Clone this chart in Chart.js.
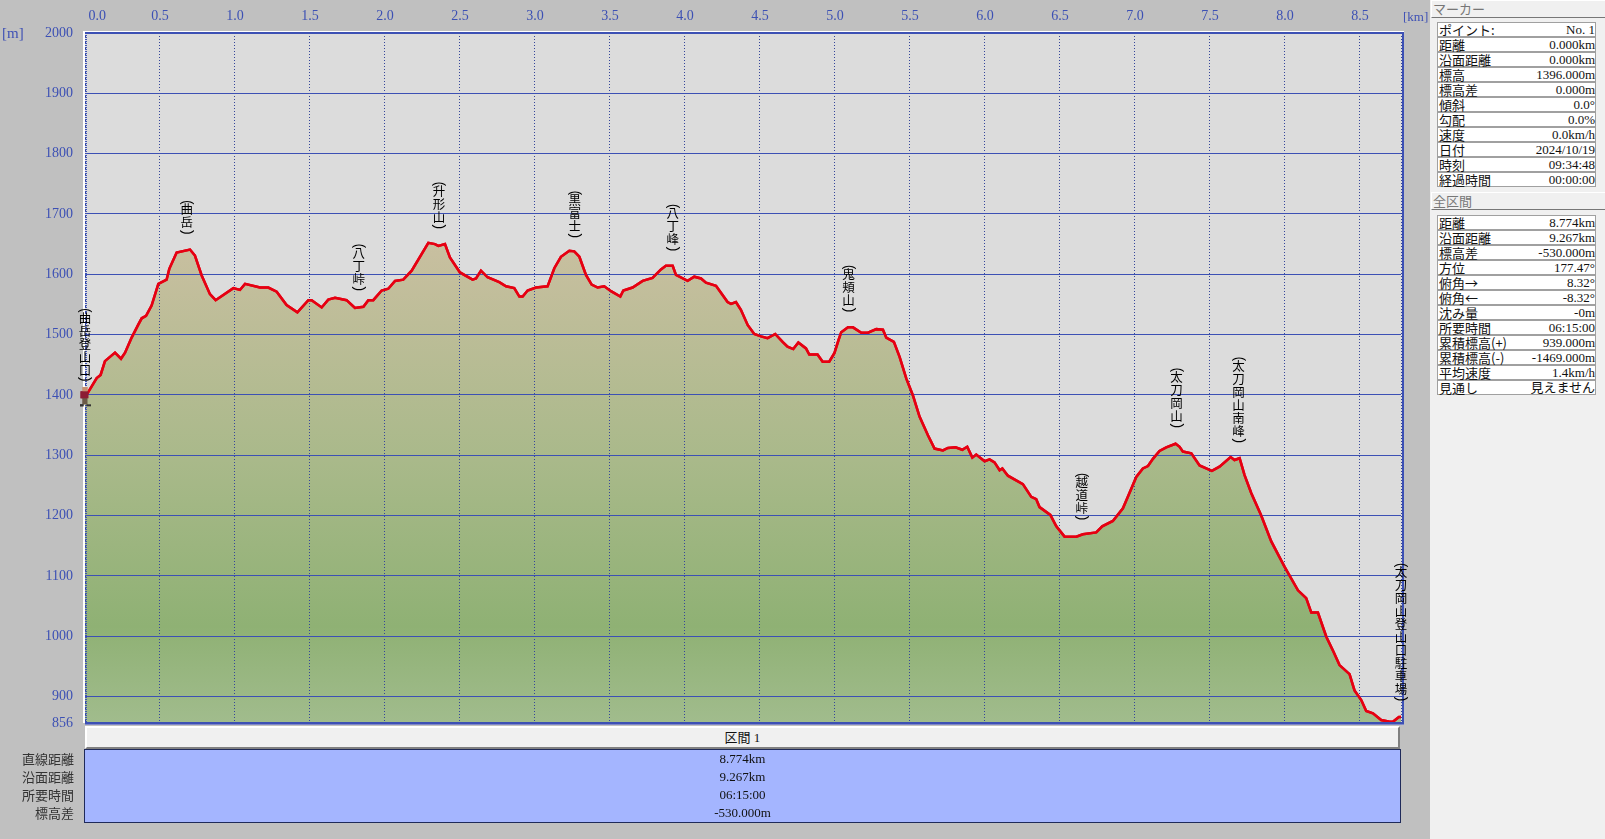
<!DOCTYPE html>
<html>
<head>
<meta charset="utf-8">
<style>
  html, body { margin: 0; padding: 0; background: #c0c0c0; overflow: hidden; }
  body { width: 1605px; height: 839px; position: relative; font-family: "Liberation Serif", "Noto Sans CJK JP", serif; font-size: 13px; color: #222; }
  canvas { position: absolute; left: 0; top: 0; }
  .abs { position: absolute; white-space: nowrap; line-height: 15px; color: #3f51b5; }
  #panel { position: absolute; left: 1430px; top: 0; width: 175px; height: 839px; background: #f0f0f0; }
  .head { position: absolute; left: 1px; width: 172px; height: 16px; line-height: 16px; color: #777; font-size: 13px; font-family: "Noto Sans CJK JP"; background: #f0f0f0; border-top: 1px solid #fff; border-left: 1px solid #fff; border-right: 1px solid #777; border-bottom: 1px solid #777; padding-left: 1px; box-sizing: content-box; }
  .row { position: absolute; left: 7px; width: 159px; height: 15px; line-height: 14px; background: #fff; border: 1px solid #a0a0a0; box-sizing: border-box; padding: 0 0 0 1px; display: flex; justify-content: space-between; color: #111; }
  .row span:first-child { font-family: "Noto Sans CJK JP"; }
  #section { position: absolute; left: 85px; top: 726px; width: 1315px; height: 23px; line-height: 20px; background: #f0f0f0; text-align: center; box-sizing: border-box; border-top: 2px solid #fff; border-left: 2px solid #fff; border-bottom: 2px solid #808080; border-right: 2px solid #808080; color: #111; }
  #blue { position: absolute; left: 84px; top: 749px; width: 1317px; height: 74px; background: #a4b5ff; border: 1px solid #1f2a5a; box-sizing: border-box; }
  .val { position: absolute; left: 84px; width: 1317px; text-align: center; line-height: 18px; color: #111; }
  .lab { position: absolute; left: 0; width: 74px; text-align: right; line-height: 18px; color: #333; font-family: "Noto Sans CJK JP"; }
</style>
</head>
<body>
<canvas id="grafica" width="1605" height="839"></canvas>
<div class="abs" style="left:2px;top:26px;font-size:15px">[m]</div>
<div class="abs" style="left:1403px;top:9px;font-size:13px">[km]</div>
<div id="section">区間 1</div>
<div id="blue"></div>
<div id="panel"></div>

<script src="https://cdn.jsdelivr.net/npm/chart.js@4"></script>
<script>
// 距離 [km]
const distKm = [
  0, 0.078, 0.104, 0.133, 0.2, 0.24, 0.267, 0.311, 0.356, 0.378, 0.407, 0.444, 0.489, 0.544, 0.562, 0.611, 0.7, 0.733, 0.778, 0.833, 0.871, 0.989,
  1.033, 1.067, 1.167, 1.222, 1.278, 1.344, 1.416, 1.489, 1.511, 1.578, 1.622, 1.667, 1.744, 1.8, 1.856, 1.889, 1.922, 1.978,
  2.022, 2.067, 2.122, 2.178, 2.289, 2.333, 2.356, 2.4, 2.433, 2.5, 2.584, 2.607, 2.64, 2.684, 2.762, 2.807, 2.862, 2.896, 2.918, 2.951,
  3.007, 3.084, 3.129, 3.173, 3.229, 3.262, 3.296, 3.34, 3.378, 3.418, 3.462, 3.507, 3.569, 3.589, 3.651, 3.718, 3.784, 3.84, 3.873, 3.918, 3.94,
  4.018, 4.062, 4.107, 4.14, 4.207, 4.284, 4.307, 4.34, 4.373, 4.418, 4.462, 4.507, 4.551, 4.602, 4.651, 4.684, 4.722, 4.756, 4.807, 4.829, 4.884, 4.918, 4.962, 4.996,
  5.024, 5.042, 5.087, 5.12, 5.176, 5.22, 5.276, 5.32, 5.342, 5.393, 5.431, 5.476, 5.52, 5.564, 5.62, 5.664, 5.72, 5.753, 5.804, 5.849, 5.882, 5.916, 5.942, 5.998,
  6.031, 6.064, 6.098, 6.116, 6.153, 6.253, 6.309, 6.342, 6.364, 6.436, 6.476, 6.531, 6.609, 6.653, 6.742, 6.782, 6.853, 6.92, 6.953,
  7.009, 7.053, 7.087, 7.12, 7.164, 7.209, 7.271, 7.298, 7.32, 7.376, 7.431, 7.513, 7.564, 7.638, 7.664, 7.698, 7.731, 7.776, 7.842, 7.909, 7.998,
  8.087, 8.142, 8.176, 8.22, 8.276, 8.324, 8.364, 8.431, 8.464, 8.509, 8.542, 8.587, 8.642, 8.698, 8.72, 8.76, 8.774
];
// 標高 [m]
const elevM = [
  1396, 1428, 1433, 1456, 1470, 1460, 1470, 1495, 1517, 1527, 1531, 1548, 1584, 1591, 1609, 1636, 1641, 1631, 1598, 1567, 1557, 1577,
  1574, 1584, 1578, 1578, 1571, 1549, 1537, 1557, 1557, 1545, 1558, 1561, 1557, 1544, 1546, 1557, 1557, 1573,
  1576, 1589, 1591, 1606, 1652, 1650, 1647, 1650, 1628, 1603, 1591, 1593, 1606, 1595, 1587, 1580, 1577, 1563, 1563, 1573,
  1578, 1580, 1610, 1629, 1639, 1638, 1629, 1599, 1583, 1578, 1580, 1572, 1563, 1573, 1578, 1589, 1594, 1608, 1614, 1614, 1599,
  1589, 1596, 1593, 1586, 1581, 1554, 1551, 1554, 1541, 1516, 1501, 1497, 1494, 1501, 1488, 1480, 1476, 1487, 1477, 1467, 1467, 1455, 1455, 1469,
  1491, 1504, 1512, 1512, 1503, 1503, 1509, 1508, 1495, 1488, 1463, 1427, 1399, 1364, 1333, 1311, 1308, 1312, 1313, 1309, 1314, 1296, 1301, 1290,
  1293, 1288, 1275, 1278, 1266, 1252, 1231, 1227, 1214, 1201, 1182, 1165, 1165, 1169, 1172, 1182, 1191, 1212, 1231,
  1264, 1278, 1282, 1294, 1307, 1313, 1319, 1314, 1306, 1303, 1283, 1274, 1281, 1297, 1292, 1295, 1267, 1237, 1200, 1157, 1115,
  1076, 1063, 1039, 1039, 999, 974, 952, 937, 910, 894, 876, 872, 861, 858, 858, 866, 866
];

const xTickValues = [0, 0.5, 1, 1.5, 2, 2.5, 3, 3.5, 4, 4.5, 5, 5.5, 6, 6.5, 7, 7.5, 8, 8.5, 8.774];

// 地点名
const peakNames = ["曲岳登山口", "曲岳", "八丁峠", "升形山", "黒富士", "八丁峰", "鬼頬山", "越道峠", "太刀岡山", "太刀岡山南峰", "太刀岡山登山口駐車場"];
const peakKm = [0, 0.678, 1.825, 2.36, 3.265, 3.918, 5.091, 6.645, 7.278, 7.69, 8.774];
const peakBaseM = [1424, 1668, 1574, 1677, 1662, 1640, 1539, 1194, 1347, 1322, 894];

const markerKm = [0];
const markerM = [1396];

const markerLabels = ["ポイント:", "距離", "沿面距離", "標高", "標高差", "傾斜", "勾配", "速度", "日付", "時刻", "経過時間"];
const markerValues = ["No. 1", "0.000km", "0.000km", "1396.000m", "0.000m", "0.0°", "0.0%", "0.0km/h", "2024/10/19", "09:34:48", "00:00:00"];
const totalLabels = ["距離", "沿面距離", "標高差", "方位", "俯角→", "俯角←", "沈み量", "所要時間", "累積標高(+)", "累積標高(-)", "平均速度", "見通し"];
const totalValues = ["8.774km", "9.267km", "-530.000m", "177.47°", "8.32°", "-8.32°", "-0m", "06:15:00", "939.000m", "-1469.000m", "1.4km/h", "見えません"];
const tableLabels = ["直線距離", "沿面距離", "所要時間", "標高差"];
const tableValues = ["8.774km", "9.267km", "06:15:00", "-530.000m"];

const azul = "#3c50b4";
const fuenteNum = '"Liberation Serif", "Noto Sans CJK JP", serif';

// 右パネルと下の表
const panel = document.getElementById("panel");
function addHead(text, top) {
  const d = document.createElement("div");
  d.className = "head";
  d.style.top = top + "px";
  d.textContent = text;
  panel.appendChild(d);
}
function addRows(labels, values, top) {
  labels.forEach((l, i) => {
    const d = document.createElement("div");
    d.className = "row";
    d.style.top = (top + i * 15) + "px";
    d.innerHTML = "<span>" + l + "</span><span>" + values[i] + "</span>";
    panel.appendChild(d);
  });
}
addHead("マーカー", 0);
addRows(markerLabels, markerValues, 22);
addHead("全区間", 192);
addRows(totalLabels, totalValues, 215);

tableLabels.forEach((l, i) => {
  const top = 750 + i * 18;
  const a = document.createElement("div");
  a.className = "lab";
  a.style.top = top + "px";
  a.textContent = l;
  document.body.appendChild(a);
  const b = document.createElement("div");
  b.className = "val";
  b.style.top = top + "px";
  b.textContent = tableValues[i];
  document.body.appendChild(b);
});

// 現在地の人形
function makeHiker() {
  const c = document.createElement("canvas");
  c.width = 11;
  c.height = 20;
  const g = c.getContext("2d");
  g.fillStyle = "#c89070"; g.fillRect(3, 0, 5, 4);
  g.fillStyle = "#8c1c34"; g.fillRect(1, 4, 8, 7);
  g.fillStyle = "#6b5a48"; g.fillRect(3, 11, 3, 6); g.fillRect(6, 11, 2, 6);
  g.fillStyle = "#333"; g.fillRect(0, 17, 4, 2); g.fillRect(7, 17, 4, 2);
  return c;
}

// 背景、枠、線の描き直し、地点名
const decoraciones = {
  id: "decoraciones",
  beforeDraw(chart) {
    const { ctx, chartArea: a } = chart;
    ctx.save();
    ctx.fillStyle = "#dcdcdc";
    ctx.fillRect(a.left, a.top, a.right - a.left + 1, a.bottom - a.top);
    ctx.fillStyle = "#ffffff";
    ctx.fillRect(a.left - 2, a.top - 2, a.right - a.left + 5, 2);
    ctx.fillRect(a.left - 2, a.top - 2, 2, a.bottom - a.top + 2);
    ctx.restore();
  },
  afterDraw(chart) {
    const { ctx, chartArea: a, scales } = chart;
    ctx.save();
    // 赤線と人形はグリッドの上
    chart.getDatasetMeta(0).dataset.draw(ctx);
    ctx.fillStyle = azul;
    ctx.fillRect(a.left, a.top - 1, a.right - a.left + 3, 2);
    ctx.fillRect(a.left, a.bottom - 1, a.right - a.left + 3, 2);
    ctx.fillRect(a.right + 1, a.top, 2, a.bottom - a.top);
    ctx.fillStyle = "#8088c8";
    ctx.fillRect(a.left, a.bottom + 1, a.right - a.left + 3, 1);
    for (let y = a.top; y < a.bottom; y += 2) {
      ctx.fillStyle = azul;
      ctx.fillRect(a.left, y, 2, 1);
    }
    chart.getDatasetMeta(1).data[0].draw(ctx);

    ctx.fillStyle = "#000";
    ctx.textAlign = "center";
    ctx.textBaseline = "middle";
    peakNames.forEach((name, i) => {
      const x = scales.x.getPixelForValue(peakKm[i]);
      let y = scales.y.getPixelForValue(peakBaseM[i]);
      const drawParen = (ch, py) => {
        ctx.save();
        ctx.translate(x, py);
        ctx.rotate(Math.PI / 2);
        ctx.font = "14px 'Liberation Sans'";
        ctx.fillText(ch, 0, 0);
        ctx.restore();
      };
      const chars = Array.from(name);
      drawParen(")", y - 1);
      y -= 4;
      ctx.font = "12.5px 'Noto Sans CJK JP'";
      for (let j = chars.length - 1; j >= 0; j--) {
        ctx.fillText(chars[j], x, y - 6.5);
        y -= 13;
      }
      drawParen("(", y - 1);
    });
    ctx.restore();
  }
};

new Chart(document.getElementById("grafica"), {
  type: "line",
  data: {
    datasets: [
      {
        data: distKm.map((k, i) => ({ x: k, y: elevM[i] })),
        borderColor: "#e60012",
        borderWidth: 2.5,
        pointRadius: 0,
        tension: 0,
        fill: "start",
        backgroundColor(context) {
          const a = context.chart.chartArea;
          if (!a) return "#a0b080";
          const g = context.chart.ctx.createLinearGradient(0, a.top, 0, a.bottom);
          g.addColorStop(0, "#d6c8ac");
          g.addColorStop(0.32, "#c7bf9f");
          g.addColorStop(0.62, "#a9b98a");
          g.addColorStop(0.86, "#8fb174");
          g.addColorStop(1, "#a1bc8d");
          return g;
        }
      },
      {
        data: markerKm.map((k, i) => ({ x: k, y: markerM[i] })),
        showLine: false,
        pointStyle: makeHiker(),
        pointRadius: 6,
        clip: false
      }
    ]
  },
  options: {
    responsive: false,
    animation: false,
    layout: { padding: { left: 0, top: 0, right: 204, bottom: 116 } },
    plugins: { legend: { display: false }, tooltip: { enabled: false } },
    scales: {
      x: {
        type: "linear",
        position: "top",
        min: 0,
        max: 8.774,
        afterFit(scale) { scale.height = 33; },
        afterBuildTicks(scale) { scale.ticks = xTickValues.map(v => ({ value: v })); },
        border: { display: false, dash: [1, 2] },
        grid: { color: "#34459a", lineWidth: 1, drawTicks: false, z: 1 },
        ticks: {
          autoSkip: false,
          maxRotation: 0,
          align: "inner",
          padding: 8,
          color: azul,
          font: { family: fuenteNum, size: 14 },
          callback(v) {
            if (v > 8.7) return "";
            return v === 0 ? " 0.0" : v.toFixed(1);
          }
        }
      },
      y: {
        min: 856,
        max: 2000,
        afterFit(scale) { scale.width = 85; },
        border: { display: false },
        grid: { color: "#3c50b4", lineWidth: 1, drawTicks: false, z: 1 },
        ticks: {
          stepSize: 100,
          autoSkip: false,
          padding: 12,
          color: azul,
          font: { family: fuenteNum, size: 14 },
          callback(v) { return String(v); }
        }
      }
    }
  },
  plugins: [decoraciones]
});
</script>
</body>
</html>
